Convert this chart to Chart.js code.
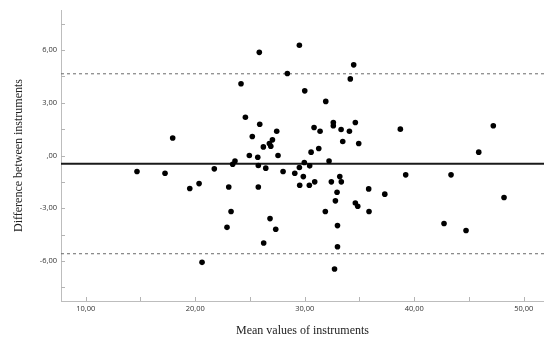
<!DOCTYPE html>
<html lang="en">
<head>
    <meta charset="UTF-8">
    <title>Bland-Altman plot</title>
    <style>
        body {
            margin: 0;
            padding: 0;
            background-color: #ffffff;
        }

        canvas {
            display: block;
        }
    </style>
</head>
<body>
    <canvas id="baCanvas" width="544" height="338"></canvas>

    <script src="https://cdn.jsdelivr.net/npm/chart.js"></script>
    <script>
        // Mean of the two instruments (x) and their difference (y), one per subject
        const meanValues = [
            14.68, 17.24, 17.94, 19.50, 20.35, 20.62, 21.74, 23.06, 23.27, 22.90,
            23.63, 23.42, 24.18, 24.58, 24.94, 25.21, 25.85, 25.71, 25.89, 25.76,
            26.25, 26.22, 25.76, 26.44, 26.83, 26.77, 27.05, 26.90, 27.44, 27.56,
            27.35, 28.02, 28.41, 29.51, 29.09, 29.51, 29.54, 29.87, 29.96, 30.00,
            30.42, 30.45, 30.58, 30.85, 30.91, 31.28, 31.40, 31.92, 31.88, 32.22,
            32.43, 32.61, 32.61, 32.72, 32.80, 32.95, 32.99, 32.99, 33.20, 33.34,
            33.32, 33.47, 34.08, 34.16, 34.47, 34.62, 34.93, 34.62, 34.84, 35.84,
            35.87, 37.31, 38.73, 39.22, 42.72, 43.36, 44.73, 45.89, 47.22, 48.20
        ];
        const differences = [
            -0.91, -1.01, 1.00, -1.88, -1.60, -6.08, -0.76, -1.79, -3.19, -4.09,
            -0.31, -0.50, 4.08, 2.18, 0.00, 1.08, 5.87, -0.10, 1.78, -1.79,
            -4.98, 0.49, -0.57, -0.72, -3.59, 0.68, 0.89, 0.53, 1.38, 0.00,
            -4.20, -0.91, 4.67, 6.27, -1.01, -0.68, -1.69, -1.20, -0.40, 3.68,
            -1.69, -0.59, 0.19, 1.59, -1.50, 0.40, 1.38, 3.08, -3.19, -0.31,
            -1.50, 1.88, 1.69, -6.46, -2.58, -2.09, -3.99, -5.19, -1.20, -1.50,
            1.48, 0.80, 1.38, 4.36, 5.16, 1.88, 0.68, -2.70, -2.89, -1.90,
            -3.19, -2.20, 1.50, -1.10, -3.87, -1.10, -4.27, 0.19, 1.69, -2.39
        ];

        // Mean difference and limits of agreement
        const meanDiff = -0.47;
        const upperLimit = 4.65;
        const lowerLimit = -5.59;

        // Axis ranges
        const xRange = [7.74, 51.85];
        const yRange = [-8.28, 8.28];

        function fmt(v) {
            v = Math.round(v * 100) / 100;
            if (v === 0) return ',00';
            return v.toFixed(2).replace('.', ',');
        }

        function hline(value) {
            return [{ x: xRange[0], y: value }, { x: xRange[1], y: value }];
        }

        // SPSS style: small tick marks pointing into the plot
        const innerTicks = {
            id: 'innerTicks',
            afterDatasetsDraw(chart) {
                const { ctx, chartArea: a, scales: { x, y } } = chart;
                ctx.save();
                ctx.strokeStyle = '#b4b4b4';
                ctx.lineWidth = 1;
                ctx.beginPath();
                x.ticks.forEach(function(t) {
                    const px = Math.round(x.getPixelForValue(t.value)) + 0.5;
                    ctx.moveTo(px, a.bottom);
                    ctx.lineTo(px, a.bottom - 4);
                });
                y.ticks.forEach(function(t) {
                    const py = Math.round(y.getPixelForValue(t.value)) + 0.5;
                    ctx.moveTo(a.left, py);
                    ctx.lineTo(a.left + 4, py);
                });
                ctx.stroke();
                ctx.restore();
            }
        };

        const points = meanValues.map(function(m, i) {
            return { x: m, y: differences[i] };
        });

        const ctx = document.getElementById('baCanvas').getContext('2d');
        new Chart(ctx, {
            type: 'scatter',
            data: {
                datasets: [
                    {
                        data: points,
                        backgroundColor: '#000000',
                        borderColor: '#000000',
                        pointRadius: 2.8,
                        borderWidth: 0
                    },
                    {
                        type: 'line',
                        data: hline(meanDiff),
                        borderColor: '#1a1a1a',
                        borderWidth: 2,
                        pointRadius: 0
                    },
                    {
                        type: 'line',
                        data: hline(upperLimit),
                        borderColor: '#6a6a6a',
                        borderWidth: 1,
                        borderDash: [3, 3],
                        pointRadius: 0
                    },
                    {
                        type: 'line',
                        data: hline(lowerLimit),
                        borderColor: '#6a6a6a',
                        borderWidth: 1,
                        borderDash: [3, 3],
                        pointRadius: 0
                    }
                ]
            },
            options: {
                responsive: false,
                animation: false,
                layout: {
                    autoPadding: false,
                    padding: { top: 10, right: 0, bottom: 0, left: 0 }
                },
                plugins: {
                    legend: { display: false },
                    tooltip: { enabled: false }
                },
                scales: {
                    x: {
                        type: 'linear',
                        min: xRange[0],
                        max: xRange[1],
                        afterFit: function(scale) { scale.height = 37; },
                        border: { color: '#bdbdbd', width: 1 },
                        grid: { display: false, drawTicks: false },
                        ticks: {
                            stepSize: 5,
                            includeBounds: false,
                            autoSkip: false,
                            maxRotation: 0,
                            padding: 3,
                            color: '#333333',
                            font: { family: 'Open Sans', size: 7.5 },
                            callback: function(v) {
                                return Math.round(v) % 10 === 0 ? fmt(v) : '';
                            }
                        },
                        title: {
                            display: true,
                            text: 'Mean values of instruments',
                            color: '#222222',
                            font: { family: 'Liberation Serif', size: 12 },
                            padding: { top: 0, bottom: 0 }
                        }
                    },
                    y: {
                        type: 'linear',
                        min: yRange[0],
                        max: yRange[1],
                        afterFit: function(scale) { scale.width = 61; },
                        border: { color: '#bdbdbd', width: 1 },
                        grid: { display: false, drawTicks: false },
                        ticks: {
                            stepSize: 1.5,
                            includeBounds: false,
                            autoSkip: false,
                            padding: 4,
                            color: '#333333',
                            font: { family: 'Open Sans', size: 7.5 },
                            callback: function(v) {
                                const r = Math.round(v * 100) / 100;
                                return Math.abs(r % 3) < 0.001 ? fmt(r) : '';
                            }
                        },
                        title: {
                            display: true,
                            text: 'Difference between instruments',
                            color: '#222222',
                            font: { family: 'Liberation Serif', size: 12 },
                            padding: { top: 12, bottom: 0 }
                        }
                    }
                }
            },
            plugins: [innerTicks]
        });
    </script>
</body>
</html>
